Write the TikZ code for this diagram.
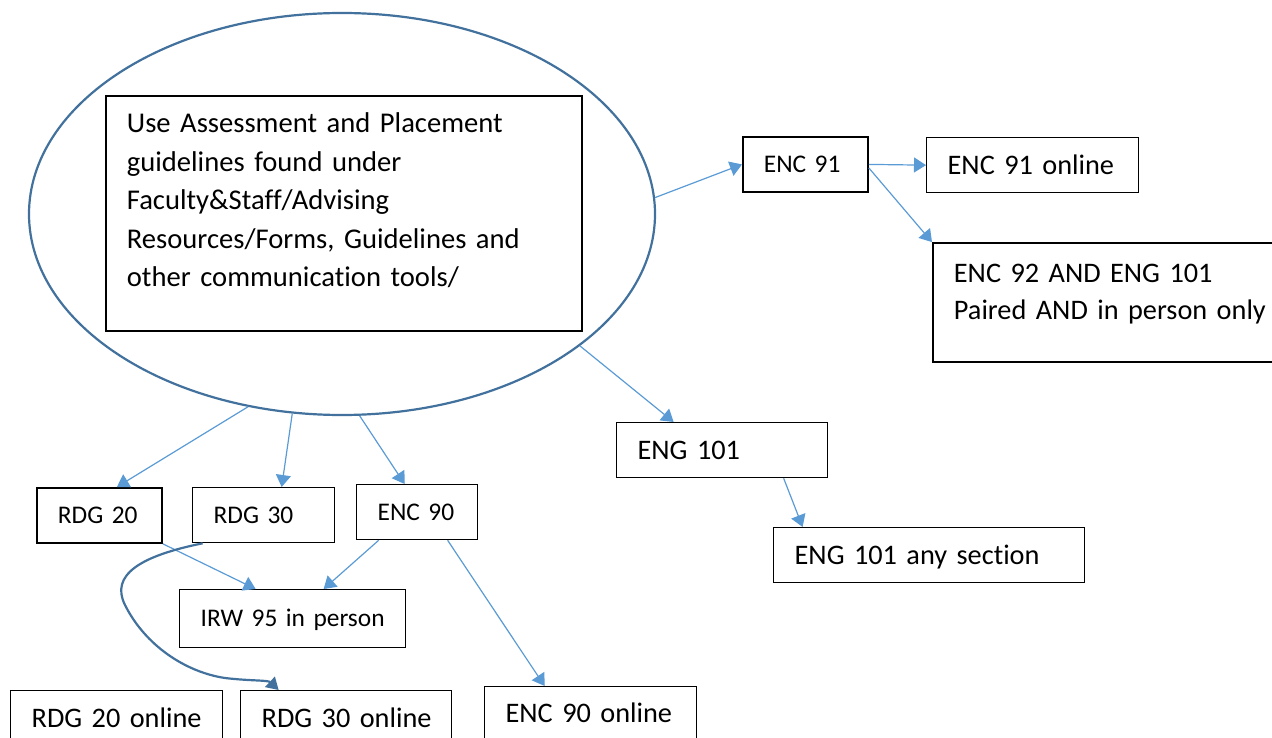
\documentclass[tikz,border=0pt]{standalone}
\usepackage{fontspec}
\setmainfont{Carlito}[Ligatures=NoCommon, WordSpace=0.8]
\usetikzlibrary{shapes.geometric,arrows.meta}
\definecolor{ellblue}{HTML}{41719C}
\definecolor{arrblue}{HTML}{5B9BD5}
\begin{document}
\begin{tikzpicture}[x=1pt,y=-1pt,
  box/.style={draw=black, line width=1.3pt, rectangle, anchor=north west, inner xsep=21pt, inner ysep=0pt, align=left},
  thickbox/.style={box, line width=1.8pt},
  fbig/.style={font=\fontsize{28.3}{38.4}\selectfont, text height=18.2pt, text depth=0pt},
  fsmall/.style={font=\fontsize{25.4}{31}\selectfont, text height=16.4pt, text depth=0pt},
  conn/.style={draw=arrblue, line width=1.2pt, -{Triangle[length=12pt,width=15pt]}},
]
\useasboundingbox (0,0) rectangle (1272,738);

% ellipse
\node[ellipse, draw=ellblue, line width=2.2pt, minimum width=626pt, minimum height=402pt, inner sep=0pt] (ell) at (342,214) {};

% big text box
\node[thickbox, anchor=base west, font=\fontsize{28.6}{38.4}\selectfont, text width=434pt, text height=37pt, text depth=198pt] (bigbox) at (105,133)
  {\mbox{Use Assessment and Placement}\\\mbox{guidelines found under}\\\mbox{Faculty\&Staff/Advising}\\\mbox{Resources/Forms, Guidelines and}\\\mbox{other communication tools/}};

% right side
\node[thickbox, fsmall, text width=83pt, minimum height=55pt] (enc91) at (742,136) {\mbox{ENC 91}};
\node[box, fbig, text width=170pt, minimum height=55pt] (enc91on) at (926,137) {\mbox{ENC 91 online}};
\node[thickbox, anchor=base west, font=\fontsize{28.3}{37}\selectfont, text width=328pt, text height=39pt, text depth=80pt] (enc92) at (932,282)
  {\mbox{ENC 92 AND ENG 101}\\\mbox{Paired AND in person only}};
\node[box, fbig, text width=169pt, minimum height=55pt] (eng101) at (616,422) {\mbox{ENG 101}};
\node[box, fbig, text width=269pt, minimum height=55pt] (eng101any) at (773,527) {\mbox{ENG 101 any section}};

% bottom left
\node[thickbox, fsmall, text width=83pt, minimum height=55pt] (rdg20) at (36,487) {\mbox{RDG 20}};
\node[box, fsmall, text width=100pt, minimum height=55pt] (rdg30) at (192,487) {\mbox{RDG 30}};
\node[box, fsmall, text width=79pt, minimum height=55pt] (enc90) at (356,484) {\mbox{ENC 90}};
\node[box, fsmall, text width=184pt, minimum height=58pt] (irw95) at (179,589) {\mbox{IRW 95 in person}};
\node[box, fbig, text width=170pt, minimum height=55pt] (rdg20on) at (10,690) {\mbox{RDG 20 online}};
\node[box, fbig, text width=169pt, minimum height=55pt] (rdg30on) at (240,690) {\mbox{RDG 30 online}};
\node[box, fbig, text width=170pt, minimum height=54pt] (enc90on) at (484,686) {\mbox{ENC 90 online}};

% connectors
\draw[conn] (ell.3) -- (enc91.west);
\draw[conn] (enc91.east) -- (enc91on.west);
\draw[conn] ([yshift=-3.5pt]enc91.east) -- (enc92.north west);
\draw[conn] (ell.-29) -- ([xshift=-48.5pt]eng101.north);
\draw[conn] ([xshift=61.5pt]eng101.south) -- ([xshift=-126.5pt]eng101any.north);
\draw[conn] (ell.-116) -- ([xshift=17.5pt]rdg20.north);
\draw[conn] (ell.-104) -- ([xshift=18pt]rdg30.north);
\draw[conn] (ell.-85) -- ([xshift=-12.5pt]enc90.north);
\draw[conn] (rdg20.south east) -- ([xshift=-37pt]irw95.north);
\draw[conn] ([xshift=-38.5pt]enc90.south) -- ([xshift=31pt]irw95.north);
\draw[conn] ([xshift=30.5pt]enc90.south) -- ([xshift=-46pt]enc90on.north);
\draw[draw=ellblue, line width=2.2pt, -{Triangle[length=12pt,width=14pt]}]
  ([xshift=-61pt]rdg30.south) .. controls (140,556) and (110,575) .. (125,605)
  .. controls (145,645) and (185,672) .. (225,678)
  .. controls (250,681) and (268,680) .. ([xshift=-67.5pt]rdg30on.north);
\end{tikzpicture}
\end{document}
